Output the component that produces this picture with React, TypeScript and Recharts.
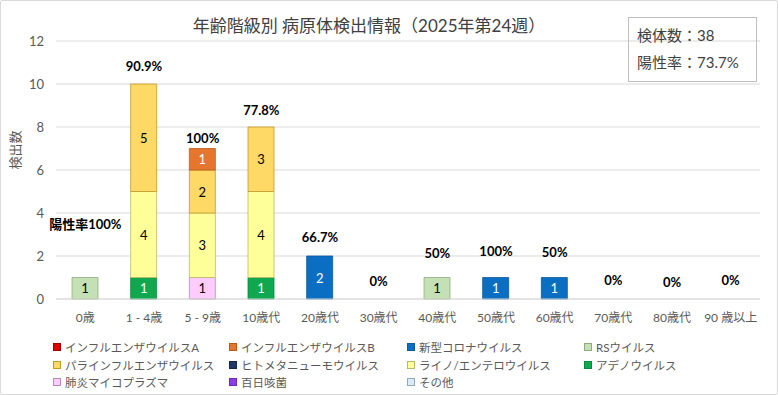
import { ComposedChart, Bar, Line, XAxis, YAxis, CartesianGrid, LabelList, Legend, Label } from 'recharts';

const FONT = "Lato, 'Noto Sans CJK JP', sans-serif";

const ageGroups = ['0歳', '1 - 4歳', '5 - 9歳', '10歳代', '20歳代', '30歳代', '40歳代', '50歳代', '60歳代', '70歳代', '80歳代', '90 歳以上'];

const fluA = [0, 0, 0, 0, 0, 0, 0, 0, 0, 0, 0, 0];
const fluB = [0, 0, 1, 0, 0, 0, 0, 0, 0, 0, 0, 0];
const covid = [0, 0, 0, 0, 2, 0, 0, 1, 1, 0, 0, 0];
const rsv = [1, 0, 0, 0, 0, 0, 1, 0, 0, 0, 0, 0];
const parainfluenza = [0, 5, 2, 3, 0, 0, 0, 0, 0, 0, 0, 0];
const hmpv = [0, 0, 0, 0, 0, 0, 0, 0, 0, 0, 0, 0];
const rhinoEntero = [0, 4, 3, 4, 0, 0, 0, 0, 0, 0, 0, 0];
const adeno = [0, 1, 0, 1, 0, 0, 0, 0, 0, 0, 0, 0];
const mycoplasma = [0, 0, 1, 0, 0, 0, 0, 0, 0, 0, 0, 0];
const pertussis = [0, 0, 0, 0, 0, 0, 0, 0, 0, 0, 0, 0];
const others = [0, 0, 0, 0, 0, 0, 0, 0, 0, 0, 0, 0];

// positive rate per age group, and the height (in axis units) where its text sits
const positiveRates = ['陽性率100%', '90.9%', '100%', '77.8%', '66.7%', '0%', '50%', '100%', '50%', '0%', '0%', '0%'];
const rateLabelY = [3.5, 10.85, 7.5, 8.8, 2.9, 0.85, 2.15, 2.25, 2.2, 0.88, 0.8, 0.88];

const yTicks = [0, 2, 4, 6, 8, 10, 12];

const specimens = 38;
const overallRate = '73.7%';

// legend order
const series = [
  { key: 'fluA', name: 'インフルエンザウイルスA', values: fluA, fill: '#e00000', stroke: '#a00000', text: '#fff' },
  { key: 'fluB', name: 'インフルエンザウイルスB', values: fluB, fill: '#e6762e', stroke: '#b85a1e', text: '#fff' },
  { key: 'covid', name: '新型コロナウイルス', values: covid, fill: '#0a6fc2', stroke: '#0a5aa0', text: '#fff' },
  { key: 'rsv', name: 'RSウイルス', values: rsv, fill: '#c5e0b4', stroke: '#8fab7d', text: '#000' },
  { key: 'para', name: 'パラインフルエンザウイルス', values: parainfluenza, fill: '#ffd966', stroke: '#bf9a2a', text: '#000' },
  { key: 'hmpv', name: 'ヒトメタニューモウイルス', values: hmpv, fill: '#203864', stroke: '#14254a', text: '#fff' },
  { key: 'rhino', name: 'ライノ/エンテロウイルス', values: rhinoEntero, fill: '#ffff99', stroke: '#b8b86a', text: '#000' },
  { key: 'adeno', name: 'アデノウイルス', values: adeno, fill: '#10a84e', stroke: '#0b8a3e', text: '#fff' },
  { key: 'myco', name: '肺炎マイコプラズマ', values: mycoplasma, fill: '#ffccff', stroke: '#b58cb5', text: '#000' },
  { key: 'pertussis', name: '百日咳菌', values: pertussis, fill: '#8b3ee6', stroke: '#6a2cb5', text: '#fff' },
  { key: 'others', name: 'その他', values: others, fill: '#ddebf7', stroke: '#8ea9c0', text: '#000' },
];

const chartData = ageGroups.map((age, i) => {
  const row: Record<string, string | number> = { age, rate: positiveRates[i], rateY: rateLabelY[i] };
  series.forEach((s) => {
    row[s.key] = s.values[i];
  });
  return row;
});

const LegendGrid = () => (
  <div
    style={{
      display: 'grid',
      gridTemplateColumns: '176px 178px 177px 177px',
      gridAutoRows: '17.8px',
      paddingLeft: 53,
      height: 54,
      fontFamily: FONT,
      fontSize: 11.5,
      color: '#595959',
    }}
  >
    {series.map((s) => (
      <div key={s.key} style={{ display: 'flex', alignItems: 'center', whiteSpace: 'nowrap' }}>
        <span style={{ width: 6, height: 6, background: s.fill, border: `1px solid ${s.stroke}`, marginRight: 4 }} />
        {s.name}
      </div>
    ))}
  </div>
);

const makeValueLabel = (color: string) => (props: any) => {
  const { x, y, width, height, value } = props;
  if (!value) return null;
  return (
    <text x={x + width / 2} y={y + height / 2} textAnchor="middle" dominantBaseline="central" fill={color} fontSize={13} fontFamily={FONT}>
      {value}
    </text>
  );
};

const RateLabel = (props: any) => {
  const { x, y, value } = props;
  return (
    <text x={x} y={y} textAnchor="middle" dominantBaseline="central" fill="#000" fontSize={13} fontWeight="bold" fontFamily={FONT}>
      {value}
    </text>
  );
};

export default function App() {
  // stack from the bottom: reverse of the legend order
  const stackOrder = [...series].reverse();
  return (
    <div style={{ position: 'relative', width: 778, height: 395, background: '#fff', fontFamily: FONT }}>
      <style>{'body{margin:0}'}</style>
      <ComposedChart width={778} height={395} data={chartData} margin={{ top: 41, right: 18, left: 0, bottom: 12 }}>
        <CartesianGrid vertical={false} stroke="#d9d9d9" />
        <XAxis
          dataKey="age"
          tickLine={false}
          axisLine={{ stroke: '#d9d9d9' }}
          tick={{ fill: '#595959', fontSize: 12, fontFamily: FONT }}
          tickMargin={8}
          height={30}
          interval={0}
        />
        <YAxis
          domain={[0, 12]}
          ticks={yTicks}
          width={56}
          tickLine={false}
          axisLine={false}
          tickMargin={6}
          tick={{ fill: '#595959', fontSize: 13, fontFamily: FONT }}
        >
          <Label
            content={() => (
              <text x={15} y={150} transform="rotate(-90 15 150)" textAnchor="middle" dominantBaseline="central" fill="#595959" fontSize={13} fontFamily={FONT}>
                検出数
              </text>
            )}
          />
        </YAxis>
        <Legend verticalAlign="bottom" content={<LegendGrid />} wrapperStyle={{ left: 0, top: 338, width: 778 }} />
        {stackOrder.map((s) => (
          <Bar key={s.key} dataKey={s.key} name={s.name} stackId="a" fill={s.fill} stroke={s.stroke} strokeWidth={0.8} barSize={26} isAnimationActive={false}>
            <LabelList dataKey={s.key} content={makeValueLabel(s.text)} />
          </Bar>
        ))}
        <Line dataKey="rateY" stroke="none" dot={false} activeDot={false} legendType="none" isAnimationActive={false}>
          <LabelList dataKey="rate" content={RateLabel} />
        </Line>
      </ComposedChart>
      <div style={{ position: 'absolute', left: 0, top: 14, width: 738, textAlign: 'center', fontSize: 17, color: '#404040', lineHeight: '24px' }}>
        年齢階級別 病原体検出情報（2025年第24週）
      </div>
      <div
        style={{
          position: 'absolute',
          left: 628,
          top: 17,
          width: 129,
          height: 65,
          boxSizing: 'border-box',
          border: '1px solid #bfbfbf',
          padding: '4px 0 0 8px',
          fontSize: 15,
          color: '#404040',
          lineHeight: '27px',
        }}
      >
        <div>検体数：{specimens}</div>
        <div>陽性率：{overallRate}</div>
      </div>
      <div style={{ position: 'absolute', inset: 0, border: '1px solid #d9d9d9', borderRadius: 2, pointerEvents: 'none' }} />
    </div>
  );
}
